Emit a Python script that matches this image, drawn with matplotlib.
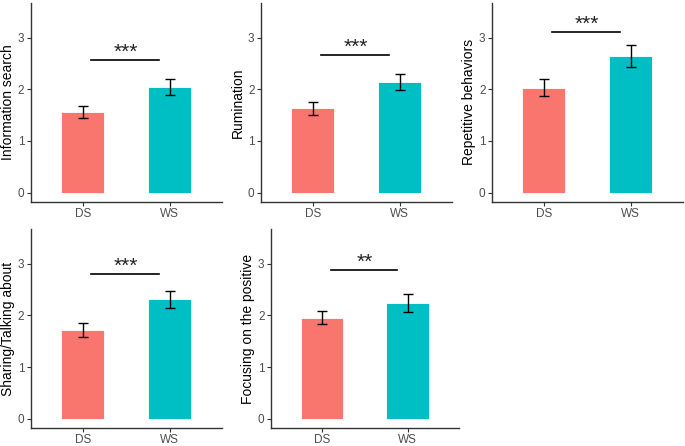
import numpy as np
import matplotlib.pyplot as plt

plt.rcParams['font.family'] = ['Liberation Sans', 'DejaVu Sans']

groups = ['DS', 'WS']
labels = ['Information search', 'Rumination', 'Repetitive behaviors',
          'Sharing/Talking about', 'Focusing on the positive']
means = [[1.56, 2.04], [1.63, 2.14], [2.03, 2.65], [1.72, 2.31], [1.96, 2.24]]
errs = [[0.11, 0.15], [0.12, 0.16], [0.16, 0.21], [0.13, 0.17], [0.12, 0.17]]
sig_y = [2.56, 2.66, 3.10, 2.80, 2.88]
sig_txt = ['***', '***', '***', '***', '**']
colors = ['#F8766D', '#00BFC4']

W, H = 685, 446
fig = plt.figure(figsize=(W / 100, H / 100), dpi=100)

# axes boxes in pixels: left, top, right, bottom
boxes = [(30.5, 3, 221.7, 201.7), (260.7, 3, 451.7, 201.7), (491.7, 3, 682.7, 201.7),
         (30.5, 229, 221.7, 428), (270.7, 229, 459, 428)]

for i in range(5):
    l, t, r, b = boxes[i]
    ax = fig.add_axes([l / W, 1 - b / H, (r - l) / W, (b - t) / H])
    x = np.arange(1, 3)
    ax.bar(x, means[i], width=0.5, color=colors, edgecolor='white', linewidth=0.6, zorder=2)
    ax.errorbar(x, means[i], yerr=errs[i], fmt='none', ecolor='black',
                elinewidth=1, capsize=3.5, capthick=1, zorder=3)
    ax.plot([1.1, 1.88], [sig_y[i], sig_y[i]], color='black', lw=1.2)
    ax.text(1.5, sig_y[i] - 0.03, sig_txt[i], ha='center', va='bottom', fontsize=15,
            color='#222222')
    ax.set_xlim(0.4, 2.6)
    ax.set_ylim(-0.175, 3.67)
    ax.set_xticks(x)
    ax.set_xticklabels(groups)
    ax.set_yticks([0, 1, 2, 3])
    ax.set_ylabel(labels[i], fontsize=10)
    ax.yaxis.set_label_coords(-15.5 / (r - l), 0.5)
    for s in ['top', 'right']:
        ax.spines[s].set_visible(False)
    for s in ['left', 'bottom']:
        ax.spines[s].set_color('#333333')
        ax.spines[s].set_linewidth(1)
    ax.tick_params(colors='#333333', labelcolor='#4D4D4D', labelsize=8.5, length=3, pad=1.5)

fig.savefig('out.png', dpi=100)
